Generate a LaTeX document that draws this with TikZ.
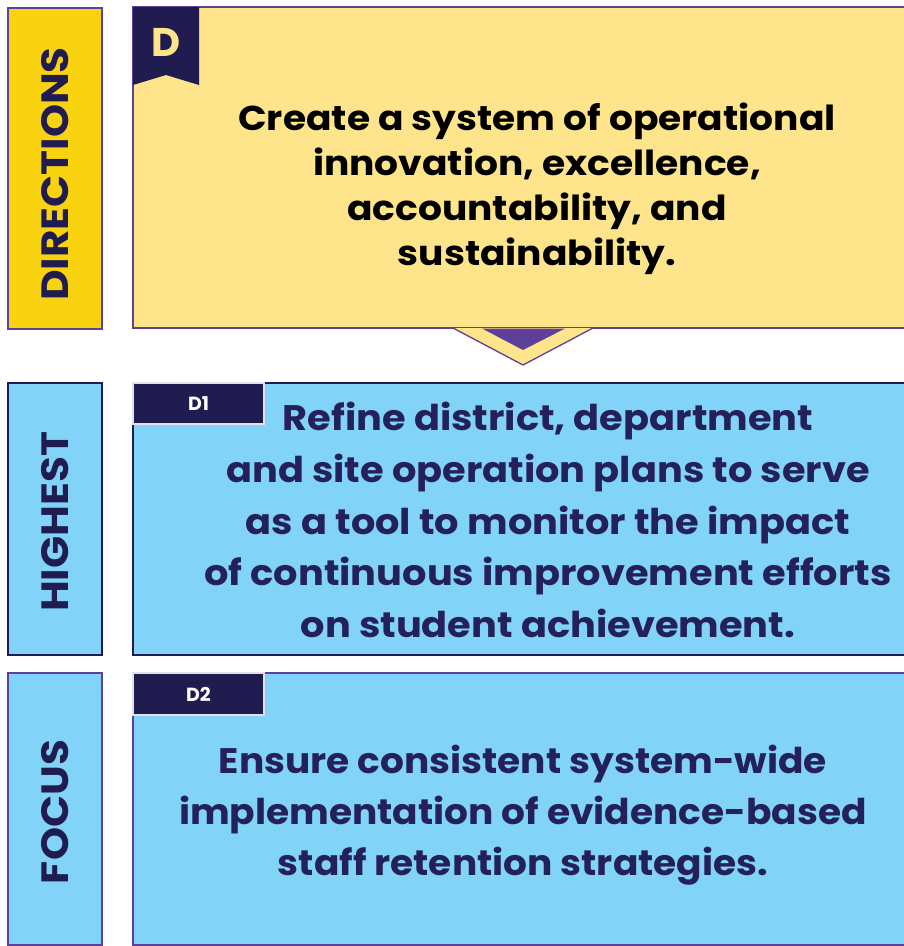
\documentclass[tikz,border=0pt]{standalone}
\usepackage{fontspec}
\setmainfont{Poppins}
\newfontfamily\dirfont{Poppins}[FakeStretch=1.09]
\newfontfamily\dfont{Poppins}[FakeStretch=1.08]
\newfontfamily\dtwofont{Poppins}[FakeStretch=1.057]
\newfontfamily\sidefont{Poppins}[FakeStretch=1.11]
\definecolor{sideyellow}{HTML}{F9D30F}
\definecolor{lightyellow}{HTML}{FEE48A}
\definecolor{bordpurple}{HTML}{5E3F99}
\definecolor{navy}{HTML}{211C4F}
\definecolor{lightblue}{HTML}{81D3F7}
\definecolor{textnavy}{HTML}{24205A}
\definecolor{tabborder}{HTML}{E2E0EA}
\tikzset{
  sidebox/.style={draw=bordpurple, line width=1.6pt},
  mainbox/.style={draw=bordpurple, line width=1.6pt},
  sidelabel/.style={rotate=90, text=navy, font=\sidefont\fontsize{38}{38}\selectfont\bfseries, inner sep=0pt},
  tabbox/.style={fill=navy, draw=tabborder, line width=1.5pt},
  tablabel/.style={text=white, font=\fontsize{19}{19}\selectfont\bfseries, inner sep=0pt},
  bluetext/.style={text=textnavy, align=center, inner sep=0pt},
}
\begin{document}
\begin{tikzpicture}[x=1pt,y=-1pt]
\useasboundingbox (0,0) rectangle (904,946);
% DIRECTIONS row
\filldraw[sidebox, fill=sideyellow] (8,8) rectangle (102,329);
\node[sidelabel] (dirlabel) at (55,174) {DIRECTIONS};
\filldraw[mainbox, fill=lightyellow] (133,7) rectangle (915,328);
\filldraw[fill=navy, draw=none] (133,7) -- (199,7) -- (199,85) -- (166,75) -- (133,85) -- cycle;
\node[text=lightyellow, font=\fontsize{40}{40}\selectfont\bfseries, inner sep=0pt] (dtab) at (166,42) {D};
\node[text=black, align=center, font=\dirfont\fontsize{34.5}{45}\selectfont\bfseries, inner sep=0pt] (dtext) at (537,189)
  {Create a system of operational\\innovation, excellence,\\accountability, and\\sustainability.};
% triangle
\filldraw[fill=lightyellow, draw=bordpurple, line width=1.3pt] (453,328) -- (523,365) -- (593,328);
\fill[bordpurple] (482,328.5) -- (523,350) -- (565,328.5) -- cycle;
% HIGHEST row
\filldraw[draw=navy, line width=1.6pt, fill=lightblue] (8,383) rectangle (102,655);
\node[sidelabel] (hilabel) at (55,522) {HIGHEST};
\filldraw[draw=navy, line width=1.6pt, fill=lightblue] (133,383) rectangle (915,655);
\filldraw[tabbox] (133,383) rectangle (264,424);
\node[tablabel] (d1tab) at (198.5,404) {D1};
\node[bluetext, font=\dfont\fontsize{35.5}{51.7}\selectfont\bfseries] (d1text) at (548,520)
  {Refine district, department\\and site operation plans to serve\\as a tool to monitor the impact\\of continuous improvement efforts\\on student achievement.};
% FOCUS row
\filldraw[sidebox, fill=lightblue] (8,673) rectangle (102,945);
\node[sidelabel] (folabel) at (55,812) {FOCUS};
\filldraw[mainbox, fill=lightblue] (133,673) rectangle (915,945);
\filldraw[tabbox] (133,673) rectangle (264,715);
\node[tablabel] (d2tab) at (198.5,694) {D2};
\node[bluetext, font=\dtwofont\fontsize{35.5}{51}\selectfont\bfseries] (d2text) at (523,815)
  {Ensure consistent system-wide\\implementation of evidence-based\\staff retention strategies.};
\end{tikzpicture}
\end{document}
